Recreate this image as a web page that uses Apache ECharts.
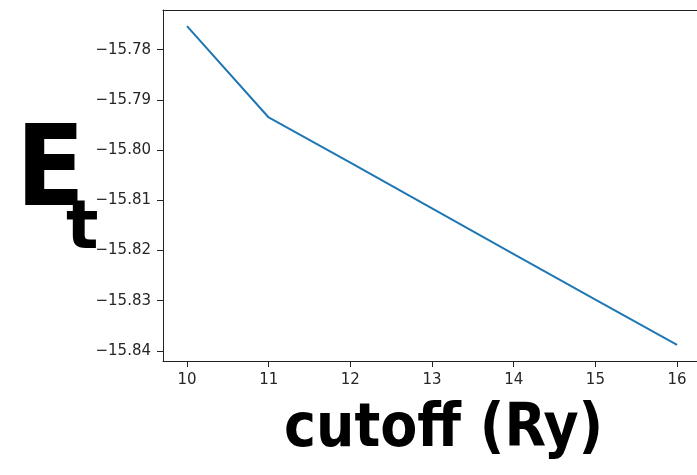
<!DOCTYPE html>
<html>
<head>
<meta charset="utf-8">
<script src="https://cdn.jsdelivr.net/npm/echarts@6/dist/echarts.min.js"></script>
<style>
  html, body { margin: 0; padding: 0; background: #fff; }
  #chart { width: 697px; height: 475px; }
</style>
</head>
<body>
<div id="chart"></div>
<script>
// cutoff in Ry vs total energy
const cutoffs = [10, 11, 12, 13, 14, 15, 16]
const energies = [-15.7753, -15.7935, -15.8025, -15.8116, -15.8207, -15.8298, -15.8388]
const xTicks = [10, 11, 12, 13, 14, 15, 16]
const yTicks = [-15.84, -15.83, -15.82, -15.81, -15.80, -15.79, -15.78]

let chart = echarts.init(document.getElementById('chart'))

const tickFont = {
  color: '#262626',
  fontSize: 15,
  fontFamily: 'DejaVu Sans',
}
const spine = { show: true, onZero: false, lineStyle: { color: '#222', width: 1 } }

chart.setOption({
  animation: false,
  grid: {
    left: 163,
    top: 10,
    right: 0,
    bottom: 114,
  },
  xAxis: [
    {
      type: 'value',
      // the right spine is cut off by the picture edge
      min: 9.706,
      max: 16.244,
      splitLine: { show: false },
      axisLine: spine,
      axisTick: {
        show: true,
        customValues: xTicks,
        length: 6,
        lineStyle: { color: '#222' },
      },
      axisLabel: {
        customValues: xTicks,
        margin: 12,
        ...tickFont,
      },
    },
    {
      // top spine only
      type: 'value',
      position: 'top',
      min: 9.706,
      max: 16.244,
      splitLine: { show: false },
      axisLine: spine,
      axisTick: { show: false },
      axisLabel: { show: false },
    },
  ],
  yAxis: {
    type: 'value',
    min: -15.842,
    max: -15.7721,
    splitLine: { show: false },
    axisLine: spine,
    axisTick: {
      show: true,
      customValues: yTicks,
      length: 6,
      lineStyle: { color: '#222' },
    },
    axisLabel: {
      customValues: yTicks,
      margin: 12,
      ...tickFont,
      formatter: (v) => '\u2212' + Math.abs(v).toFixed(2),
    },
  },
  series: [
    {
      type: 'line',
      data: cutoffs.map((c, i) => [c, energies[i]]),
      showSymbol: false,
      lineStyle: { color: '#1f77b4', width: 2 },
    },
  ],
  // handwritten axis labels
  graphic: [
    {
      type: 'text',
      left: 16,
      top: 120,
      style: {
        text: 'E',
        font: 'bold 112px "DejaVu Sans Condensed", "DejaVu Sans"',
        fill: '#000',
      },
    },
    {
      type: 'text',
      left: 66,
      top: 196,
      style: {
        text: 't',
        font: 'bold 68px "DejaVu Sans"',
        fill: '#000',
      },
    },
    {
      type: 'text',
      left: 284,
      top: 400,
      style: {
        text: 'cutoff (Ry)',
        font: 'bold 60px "DejaVu Sans Condensed", "DejaVu Sans"',
        fill: '#000',
      },
    },
  ],
})
</script>
</body>
</html>
